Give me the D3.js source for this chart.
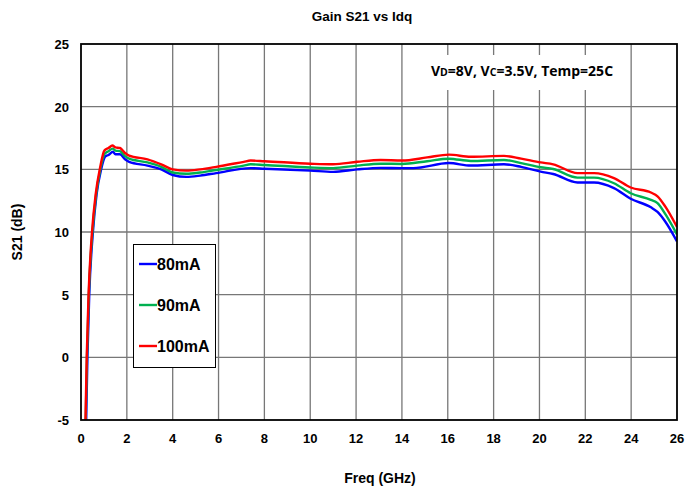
<!DOCTYPE html>
<html>
<head>
<meta charset="utf-8">
<script src="https://cdn.jsdelivr.net/npm/d3@7"></script>
<style>
  body { margin: 0; background: #fff; }
  text { font-family: Arial, "Liberation Sans", sans-serif; font-weight: bold; fill: #000; }
</style>
</head>
<body>
<div id="chart"></div>
<script>
// Frequency (GHz) / S21 (dB) for each bias current
const freq100 = [0.19, 0.25, 0.33, 0.48, 0.64, 0.83, 1.02, 1.2, 1.37, 1.5, 1.7, 1.92, 2.1, 2.9, 3.5, 4.0, 4.6, 5.2, 5.9, 7.1, 7.4, 8.0, 10.0, 11.0, 12.05, 13.07, 14.0, 15.1, 16.05, 17.0, 18.45, 19.2, 20.05, 20.6, 21.66, 22.38, 23.25, 23.98, 24.86, 25.15, 25.5, 26.0];
const gain100 = [-5.5, 0, 5, 10, 13, 15.1, 16.5, 16.7, 16.9, 16.75, 16.7, 16.3, 16.1, 15.8, 15.4, 15.0, 14.9, 15.0, 15.2, 15.6, 15.7, 15.65, 15.45, 15.4, 15.6, 15.75, 15.7, 15.95, 16.17, 16.0, 16.07, 15.85, 15.55, 15.4, 14.7, 14.7, 14.3, 13.55, 13.15, 12.85, 12.0, 10.4];

const freq90 = [0.2, 0.26, 0.34, 0.5, 0.66, 0.85, 1.03, 1.2, 1.38, 1.5, 1.7, 1.92, 2.1, 2.9, 3.5, 4.0, 4.6, 5.2, 5.9, 7.1, 7.4, 8.0, 10.0, 11.0, 12.05, 13.07, 14.0, 15.1, 16.05, 17.0, 18.45, 19.2, 20.05, 20.6, 21.66, 22.38, 23.25, 23.98, 24.86, 25.15, 25.5, 26.0];
const gain90 = [-5.5, 0, 5, 10, 13, 15.05, 16.25, 16.45, 16.65, 16.5, 16.45, 16.05, 15.85, 15.55, 15.2, 14.75, 14.65, 14.75, 14.95, 15.3, 15.4, 15.35, 15.15, 15.1, 15.3, 15.45, 15.43, 15.65, 15.85, 15.67, 15.75, 15.5, 15.17, 15.03, 14.34, 14.34, 13.89, 13.09, 12.56, 12.3, 11.4, 9.8];

const freq80 = [0.22, 0.28, 0.36, 0.52, 0.68, 0.88, 1.05, 1.2, 1.4, 1.5, 1.7, 1.92, 2.1, 2.9, 3.5, 4.0, 4.6, 5.2, 5.9, 7.4, 8.0, 10.0, 11.0, 12.05, 13.07, 14.0, 14.5, 16.05, 17.0, 18.45, 19.2, 20.05, 20.6, 21.66, 22.38, 23.25, 23.98, 24.86, 25.15, 25.5, 26.0];
const gain80 = [-5.5, 0, 5, 10, 13, 15.0, 16.0, 16.15, 16.4, 16.2, 16.2, 15.8, 15.6, 15.3, 15.0, 14.55, 14.4, 14.5, 14.7, 15.1, 15.05, 14.9, 14.8, 15.0, 15.12, 15.1, 15.1, 15.5, 15.3, 15.4, 15.2, 14.82, 14.63, 13.95, 13.95, 13.5, 12.65, 11.97, 11.6, 10.8, 9.25];

const seriesNames = ["80mA", "90mA", "100mA"];
const seriesColors = ["#0000ff", "#00b050", "#ff0000"];
const xTicks = d3.range(0, 27, 2);
const yTicks = [-5, 0, 5, 10, 15, 20, 25];

const width = 687, height = 493;
const margin = { left: 81, right: 10, top: 44, bottom: 73 };

const svg = d3.select("#chart").append("svg")
    .attr("width", width).attr("height", height);

const x = d3.scaleLinear().domain([0, 26]).range([margin.left, width - margin.right]);
const y = d3.scaleLinear().domain([-5, 25]).range([height - margin.bottom, margin.top]);

// grid
svg.append("g").selectAll("line.vx").data(xTicks.slice(1, -1)).enter().append("line")
    .attr("x1", d => x(d)).attr("x2", d => x(d))
    .attr("y1", y(25)).attr("y2", y(-5))
    .attr("stroke", "#777").attr("stroke-width", 1.3);
svg.append("g").selectAll("line.hy").data(yTicks.slice(1, -1)).enter().append("line")
    .attr("x1", x(0)).attr("x2", x(26))
    .attr("y1", d => y(d)).attr("y2", d => y(d))
    .attr("stroke", "#777").attr("stroke-width", 1.3);

// annotation background
svg.append("rect").attr("x", 410).attr("y", 55).attr("width", 214).attr("height", 35).attr("fill", "#fff");
const note = svg.append("text").attr("x", 522).attr("y", 76).attr("text-anchor", "middle")
    .style("font-family", "'Open Sans', sans-serif").style("font-size", "14px");
note.append("tspan").text("V");
note.append("tspan").style("font-size", "10.5px").text("D");
note.append("tspan").text("=8V, V");
note.append("tspan").style("font-size", "10.5px").text("C");
note.append("tspan").text("=3.5V, Temp=25C");

// curves
svg.append("clipPath").attr("id", "clip").append("rect")
    .attr("x", x(0)).attr("y", y(25)).attr("width", x(26) - x(0)).attr("height", y(-5) - y(25));

const line = d3.line().x(d => x(d[0])).y(d => y(d[1])).curve(d3.curveMonotoneX);
const series = [d3.zip(freq80, gain80), d3.zip(freq90, gain90), d3.zip(freq100, gain100)];
svg.append("g").attr("clip-path", "url(#clip)").selectAll("path").data(series).enter().append("path")
    .attr("d", line).attr("fill", "none")
    .attr("stroke", (d, i) => seriesColors[i]).attr("stroke-width", 2.4);

// frame
svg.append("rect").attr("x", x(0)).attr("y", y(25)).attr("width", x(26) - x(0)).attr("height", y(-5) - y(25))
    .attr("fill", "none").attr("stroke", "#000").attr("stroke-width", 1.8);

// axes labels
svg.append("g").selectAll("text").data(xTicks).enter().append("text")
    .attr("x", d => x(d)).attr("y", y(-5) + 23).attr("text-anchor", "middle")
    .style("font-size", "13px").text(d => d);
svg.append("g").selectAll("text").data(yTicks).enter().append("text")
    .attr("x", x(0) - 12).attr("y", d => y(d) + 5).attr("text-anchor", "end")
    .style("font-size", "13px").text(d => d);

svg.append("text").attr("x", 362).attr("y", 21).attr("text-anchor", "middle")
    .style("font-size", "13.5px").text("Gain S21 vs Idq");
svg.append("text").attr("x", 380).attr("y", 483).attr("text-anchor", "middle")
    .style("font-size", "14px").text("Freq (GHz)");
svg.append("text").attr("transform", "translate(22,232) rotate(-90)").attr("text-anchor", "middle")
    .style("font-size", "14px").text("S21 (dB)");

// legend
const lg = svg.append("g");
lg.append("rect").attr("x", 133.5).attr("y", 244.5).attr("width", 82).attr("height", 123)
    .attr("fill", "#fff").attr("stroke", "#000").attr("stroke-width", 1);
const rows = lg.selectAll("g").data(seriesNames).enter().append("g")
    .attr("transform", (d, i) => `translate(0,${264 + i * 41})`);
rows.append("line").attr("x1", 139).attr("x2", 157).attr("y1", 0).attr("y2", 0)
    .attr("stroke", (d, i) => seriesColors[i]).attr("stroke-width", 2.4);
rows.append("text").attr("x", 157).attr("y", 6).style("font-size", "16px").text(d => d);
</script>
</body>
</html>
